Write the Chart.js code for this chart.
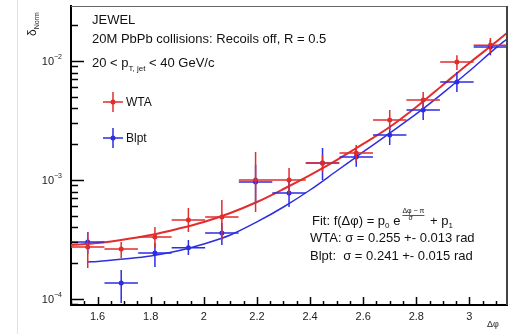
<!DOCTYPE html>
<html><head><meta charset="utf-8">
<script src="https://cdn.jsdelivr.net/npm/chart.js@4/dist/chart.umd.min.js"></script>
<style>html,body{margin:0;padding:0;background:#fff}canvas{display:block}</style>
</head><body><canvas id="c" width="512" height="334"></canvas>
<script>
// ---- data ----
const binCenters   = [1.563,1.689,1.816,1.942,2.068,2.195,2.321,2.447,2.574,2.700,2.826,2.953,3.079];
const binHalfWidth = 0.063;
const wtaValues = [2.74e-4,2.63e-4,3.32e-4,4.61e-4,4.89e-4,1.00e-3,1.00e-3,1.39e-3,1.69e-3,3.19e-3,4.70e-3,9.8e-3,1.36e-2];
const wtaLow    = [1.82e-4,2.21e-4,2.69e-4,3.66e-4,3.13e-4,5.38e-4,7.62e-4,1.17e-3,1.42e-3,2.63e-3,4.03e-3,8.40e-3,1.17e-2];
const wtaHigh   = [3.66e-4,3.01e-4,4.03e-4,5.82e-4,6.79e-4,1.72e-3,1.26e-3,1.62e-3,1.97e-3,3.87e-3,5.48e-3,1.12e-2,1.56e-2];
const blptValues= [3.01e-4,1.36e-4,2.44e-4,2.70e-4,3.59e-4,9.6e-4,7.78e-4,1.39e-3,1.56e-3,2.39e-3,3.87e-3,6.67e-3,1.31e-2];
const blptLow   = [2.39e-4,9.25e-5,1.86e-4,2.34e-4,2.84e-4,6.41e-4,5.93e-4,1.00e-3,1.29e-3,1.97e-3,3.19e-3,5.48e-3,1.12e-2];
const blptHigh  = [3.66e-4,1.75e-4,2.96e-4,3.13e-4,4.36e-4,1.34e-3,1.00e-3,1.86e-3,1.86e-3,2.90e-3,4.70e-3,8.09e-3,1.50e-2];
const fitX      = [1.5,1.6,1.7,1.8,1.9,2.0,2.1,2.2,2.3,2.4,2.5,2.6,2.7,2.8,2.9,3.0,3.1,3.1416];
const wtaFit    = [2.84e-4,2.95e-4,3.16e-4,3.45e-4,3.88e-4,4.44e-4,5.28e-4,6.53e-4,8.40e-4,1.10e-3,1.47e-3,2.01e-3,2.79e-3,4.11e-3,6.29e-3,9.62e-3,1.444e-2,1.719e-2];
const blptFitX  = [1.56,1.6,1.7,1.8,1.9,2.0,2.1,2.2,2.3,2.4,2.5,2.6,2.7,2.8,2.9,3.0,3.1,3.1416];
const blptFit   = [2.05e-4,2.07e-4,2.17e-4,2.30e-4,2.53e-4,2.90e-4,3.45e-4,4.44e-4,5.93e-4,8.24e-4,1.19e-3,1.72e-3,2.48e-3,3.59e-3,5.38e-3,8.24e-3,1.29e-2,1.53e-2];
const xTickLabels = [1.6,1.8,2.0,2.2,2.4,2.6,2.8,3.0];
const yDecades    = [-4,-3,-2];
const seriesNames = ['WTA','Blpt'];

const RED='rgb(226,45,45)', BLUE='rgb(45,45,226)';
const FONT='"Liberation Sans", Arial, sans-serif';

function segs(vals, lo, hi){
  const d=[];
  binCenters.forEach((c,i)=>{
    d.push({x:c,y:lo[i]},{x:c,y:hi[i]},{x:c,y:null});
    d.push({x:c-binHalfWidth,y:vals[i]},{x:c+binHalfWidth,y:vals[i]},{x:c,y:null});
  });
  return d;
}
const pts = v => binCenters.map((c,i)=>({x:c,y:v[i]}));
const curve = (xs,ys) => xs.map((x,i)=>({x,y:ys[i]}));

function runs(ctx, x, y, parts){
  parts.forEach(p=>{
    ctx.font = (p.s||13)+'px '+FONT;
    ctx.fillText(p.t, x, y+(p.dy||0));
    x += ctx.measureText(p.t).width;
  });
  return x;
}

const decor = {
  id:'decor',
  beforeDraw(ch){
    const c=ch.ctx; c.save();
    c.fillStyle='#fff'; c.fillRect(0,0,512,334);
    c.strokeStyle='#e2e2e2'; c.lineWidth=1;
    c.beginPath(); c.moveTo(17.5,0); c.lineTo(17.5,334); c.stroke();
    c.restore();
  },
  afterDatasetsDraw(ch){
    const c=ch.ctx, a=ch.chartArea, xs=ch.scales.x, ys=ch.scales.y;
    c.save();
    // frame top/right
    c.strokeStyle='#666'; c.lineWidth=1;
    c.beginPath(); c.moveTo(a.left,a.top+0.5); c.lineTo(a.right,a.top+0.5); c.stroke();
    c.strokeStyle='#444'; c.lineWidth=2;
    c.beginPath(); c.moveTo(a.right,a.top); c.lineTo(a.right,a.bottom); c.stroke();
    // x ticks inward
    c.strokeStyle='#000'; c.lineWidth=1.5;
    for(let k=30;k<=63;k++){
      const v=k*0.05; if(v<xs.min||v>xs.max) continue;
      const px=Math.round(xs.getPixelForValue(v))+0.5;
      const major = (k%4===0);
      c.beginPath(); c.moveTo(px,a.bottom); c.lineTo(px,a.bottom-(major?8:4)); c.stroke();
    }
    // y ticks inward
    for(let d=-5; d<=-1; d++){
      for(let m=1;m<=9;m++){
        const v=m*Math.pow(10,d); if(v<ys.min||v>ys.max) continue;
        const py=Math.round(ys.getPixelForValue(v))+0.5;
        c.beginPath(); c.moveTo(a.left,py); c.lineTo(a.left+(m===1?13:7),py); c.stroke();
      }
    }
    // y labels
    c.fillStyle='#222'; c.textBaseline='alphabetic';
    yDecades.forEach(d=>{
      const py=ys.getPixelForValue(Math.pow(10,d));
      c.font='7px '+FONT; const ew=c.measureText('\u2212'+(-d)).width;
      c.font='11px '+FONT; const bw=c.measureText('10').width;
      const x0=a.left-9-ew-bw;
      runs(c,x0,py+4,[{t:'10',s:11},{t:'\u2212'+(-d),s:7,dy:-6}]);
    });
    // axis titles
    c.font='9px '+FONT; c.fillText('\u0394\u03c6', 487, 327);
    c.save(); c.translate(36,36); c.rotate(-Math.PI/2);
    runs(c,0,0,[{t:'\u03b4',s:12},{t:'Norm',s:7,dy:3}]);
    c.restore();
    // header text
    c.fillStyle='#111';
    runs(c,92,24,[{t:'JEWEL'}]);
    runs(c,92,43,[{t:'20M PbPb collisions: Recoils off, R = 0.5'}]);
    runs(c,92,67,[{t:'20 < p'},{t:'T, jet',s:8,dy:4},{t:' < 40 GeV/c'}]);
    // fit text
    let x=runs(c,312,225,[{t:'Fit: f(\u0394\u03c6) = p'},{t:'0',s:8,dy:3},{t:' e'}]);
    c.font='7px '+FONT;
    c.fillText('\u0394\u03c6 \u2212 \u03c0',x+2,213);
    c.fillText('\u03c3',x+8,220);
    c.fillRect(x+2,215,22,0.7);
    runs(c,x+26,225,[{t:' + p'},{t:'1',s:8,dy:3}]);
    runs(c,310,242,[{t:'WTA: \u03c3 = 0.255 +- 0.013 rad'}]);
    runs(c,310,260,[{t:'Blpt:  \u03c3 = 0.241 +- 0.015 rad'}]);
    // legend
    [[RED,102,seriesNames[0]],[BLUE,138,seriesNames[1]]].forEach(([col,cy,name])=>{
      c.strokeStyle=col; c.fillStyle=col; c.lineWidth=1.5;
      c.beginPath(); c.moveTo(113,cy-10); c.lineTo(113,cy+10); c.moveTo(103,cy); c.lineTo(123,cy); c.stroke();
      c.beginPath(); c.arc(113,cy,2.5,0,7); c.fill();
      c.fillStyle='#111'; c.font='12px '+FONT; c.fillText(name,126,cy+4);
    });
    c.restore();
  }
};

new Chart(document.getElementById('c').getContext('2d'),{
  type:'scatter',
  data:{datasets:[
    {type:'line',data:segs(wtaValues,wtaLow,wtaHigh),borderColor:RED,borderWidth:1.5,pointRadius:0,spanGaps:false,tension:0},
    {type:'line',data:segs(blptValues,blptLow,blptHigh),borderColor:BLUE,borderWidth:1.5,pointRadius:0,spanGaps:false,tension:0},
    {type:'line',data:curve(fitX,wtaFit),borderColor:RED,borderWidth:2,pointRadius:0,cubicInterpolationMode:'monotone'},
    {type:'line',data:curve(blptFitX,blptFit),borderColor:BLUE,borderWidth:1.5,pointRadius:0,cubicInterpolationMode:'monotone'},
    {data:pts(wtaValues),backgroundColor:RED,pointRadius:2.5,borderWidth:0},
    {data:pts(blptValues),backgroundColor:BLUE,pointRadius:2.5,borderWidth:0}
  ]},
  options:{
    responsive:false,animation:false,
    layout:{padding:{left:0,right:5,top:6,bottom:0}},
    plugins:{legend:{display:false},tooltip:{enabled:false}},
    scales:{
      x:{type:'linear',min:1.5,max:Math.PI,
        grid:{display:false,drawTicks:false},
        border:{display:true,width:2,color:'#000'},
        afterBuildTicks(s){s.ticks=xTickLabels.map(v=>({value:v}));},
        ticks:{padding:5,color:'#222',font:{family:FONT,size:11},maxRotation:0,autoSkip:false,
          callback:v=>String(Math.round(v*10)/10)},
        afterFit(s){s.height=29;}},
      y:{type:'logarithmic',min:8.9e-5,max:2.9e-2,
        grid:{display:false,drawTicks:false},
        border:{display:true,width:2,color:'#000'},
        ticks:{display:false},
        afterFit(s){s.width=71;}}
    }
  },
  plugins:[decor]
});
</script></body></html>
